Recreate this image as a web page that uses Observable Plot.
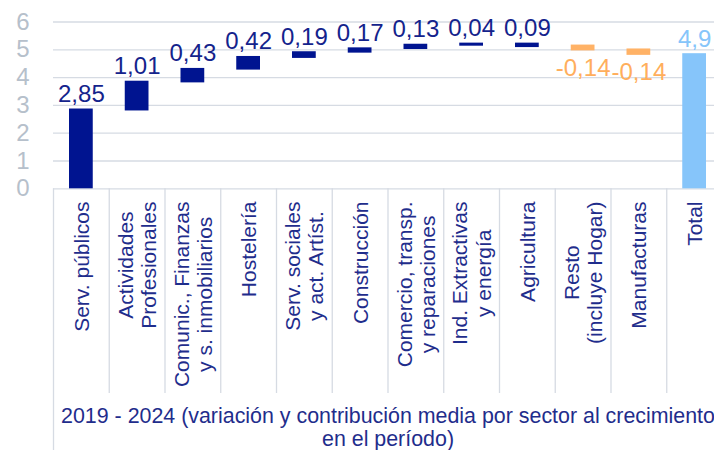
<!DOCTYPE html>
<html>
<head>
<meta charset="utf-8">
<script src="https://cdn.jsdelivr.net/npm/d3@7"></script>
<script src="https://cdn.jsdelivr.net/npm/@observablehq/plot@0.6"></script>
<style>
  html, body { margin: 0; padding: 0; background: #fff; overflow: hidden; }
  #chart svg { display: block; overflow: hidden; }
</style>
</head>
<body>
<div id="chart"></div>
<script>
const categories = [
  "Serv. públicos",
  "Actividades\nProfesionales",
  "Comunic., Finanzas\ny s. inmobiliarios",
  "Hostelería",
  "Serv. sociales\ny act. Artíst.",
  "Construcción",
  "Comercio, transp.\ny reparaciones",
  "Ind. Extractivas\ny energía",
  "Agricultura",
  "Resto\n(incluye Hogar)",
  "Manufacturas",
  "Total"
];
const values  = [2.85, 1.01, 0.43, 0.42, 0.19, 0.17, 0.13, 0.04, 0.09, -0.14, -0.14, 4.9];
const barLow  = [0, 2.80, 3.81, 4.27, 4.69, 4.88, 5.01, 5.13, 5.08, 4.96, 4.80, 0];
const barHigh = [2.87, 3.87, 4.33, 4.76, 4.93, 5.07, 5.20, 5.24, 5.24, 5.17, 5.03, 4.86];
const kinds   = ["pos","pos","pos","pos","pos","pos","pos","pos","pos","neg","neg","total"];
const yTicks  = [0, 1, 2, 3, 4, 5, 6];
const title   = "2019 - 2024 (variación y contribución media por sector al crecimiento\nen el período)";

const colors = {pos: "#001490", neg: "#FFB266", total: "#86C5FA"};
const labelColors = {pos: "#14238C", neg: "#FFAE5C", total: "#86C5FA"};
const navyText = "#1F2D8C";
const grid = "#D6DBE3";
const FONT = "Liberation Sans, Arial, sans-serif";

const W = 714, H = 450;
const mL = 53, mR = -8, mT = 21.5, mB = H - 188.3;
const bw = (W - mR - mL) / categories.length;
const pxPerUnit = (H - mB - mT) / 6;
const pxToY = px => -(px - (H - mB)) / pxPerUnit; // pixel row -> data units (layout only)

const data = categories.map((c, i) => ({
  cat: c, value: values[i], lo: barLow[i], hi: barHigh[i], kind: kinds[i],
  label: String(values[i]).replace(".", ",")
}));

// measure category labels to center multi-line blocks
const ctx = document.createElement("canvas").getContext("2d");
const catFont = 21;
ctx.font = `${catFont}px Liberation Sans`;
const catMarks = data.map(d => {
  const maxW = d3.max(d.cat.split("\n"), s => ctx.measureText(s).width);
  return Plot.text([d], {
    x: "cat", text: "cat", frameAnchor: "bottom", rotate: -90,
    textAnchor: "middle", lineAnchor: "middle", lineHeight: 1.1,
    dy: (201 - (H - mB)) + maxW / 2,
    fill: navyText, fontSize: catFont
  });
});

const chart = Plot.plot({
  width: W, height: H,
  marginLeft: mL, marginRight: mR, marginTop: mT, marginBottom: mB,
  style: {fontFamily: FONT, background: "#fff"},
  x: {domain: categories, padding: 0, round: false, axis: null},
  y: {domain: [0, 6], axis: null},
  marks: [
    Plot.gridY(yTicks, {stroke: grid, strokeOpacity: 1, strokeWidth: 1.3}),
    Plot.axisY(yTicks, {tickSize: 0, tickPadding: 24, fontSize: 24, fill: "#B6C0CB", tickFormat: d => d}),
    // category separators
    Plot.ruleX(categories.slice(1), {x: d => d, y1: 0, y2: pxToY(393), dx: -bw / 2, stroke: grid, strokeWidth: 1.3}),
    Plot.ruleX([categories[0]], {x: d => d, y1: 0, y2: pxToY(452), dx: -bw / 2, stroke: grid, strokeWidth: 1.3}),
    // bars
    Plot.barY(data, {x: "cat", y1: "lo", y2: "hi", fill: d => colors[d.kind], insetLeft: 16, insetRight: 16}),
    // value labels
    Plot.text(data.filter(d => d.kind !== "neg"), {
      x: "cat", y: "hi", text: "label", lineAnchor: "bottom", dy: -7,
      fill: d => labelColors[d.kind], fontSize: 24
    }),
    Plot.text(data.filter(d => d.kind === "neg"), {
      x: "cat", y: "lo", text: "label", lineAnchor: "top", dy: 8,
      fill: d => labelColors[d.kind], fontSize: 24
    }),
    ...catMarks,
    Plot.text([title], {
      frameAnchor: "bottom", dy: 426.5 - (H - mB), lineAnchor: "middle",
      lineHeight: 1.08, textAnchor: "middle", fill: navyText, fontSize: 21.4
    })
  ]
});
document.getElementById("chart").appendChild(chart);
</script>
</body>
</html>
